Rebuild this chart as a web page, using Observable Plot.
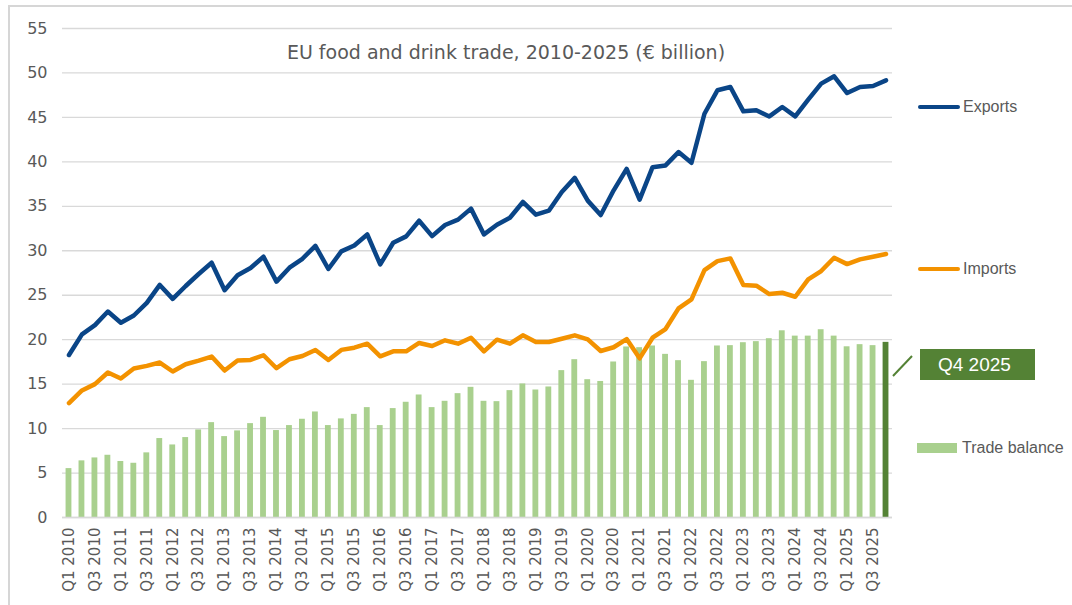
<!DOCTYPE html>
<html>
<head>
<meta charset="utf-8">
<script src="https://cdn.jsdelivr.net/npm/d3@7"></script>
<script src="https://cdn.jsdelivr.net/npm/@observablehq/plot@0.6"></script>
<style>
  html, body { margin: 0; padding: 0; background: #fff; overflow: hidden; }
  #wrap { position: relative; width: 1072px; height: 605px; overflow: hidden; }
  #chart { position: absolute; left: 0; top: 0; }
  .abs { position: absolute; }
  .frame { left: 8px; top: 5px; width: 1200px; height: 800px; border: 2px solid #d6d6d6; pointer-events: none; }
  .title { left: 506px; top: 42px; transform: translateX(-50%); white-space: nowrap;
           font-family: "DejaVu Sans", sans-serif; font-size: 19px; line-height: 20px; color: #595959; }
  .legtxt { font-family: "Liberation Sans", Arial, sans-serif; font-size: 16px; line-height: 16px; color: #595959; white-space: nowrap; }
  .callout { left: 920px; top: 349px; width: 115px; height: 31px; background: #548235; color: #fff;
             font-family: "Liberation Sans", Arial, sans-serif; font-size: 19px; line-height: 31px;
             box-sizing: border-box; padding-left: 18px; white-space: nowrap; }
</style>
</head>
<body>
<div id="wrap">
  <div id="chart"></div>
  <div class="abs frame"></div>
  <div class="abs title">EU food and drink trade, 2010-2025 (€ billion)</div>
  <div class="abs" style="left:918px;top:105px;width:42px;height:4px;background:#0a4587;border-radius:2px"></div>
  <div class="abs legtxt" style="left:963px;top:99px">Exports</div>
  <div class="abs" style="left:918px;top:267px;width:42px;height:4px;background:#f39200;border-radius:2px"></div>
  <div class="abs legtxt" style="left:963px;top:261px">Imports</div>
  <div class="abs" style="left:917px;top:443px;width:40px;height:10px;background:#a9d08e"></div>
  <div class="abs legtxt" style="left:962px;top:440px">Trade balance</div>
  <svg class="abs" style="left:0;top:0" width="1072" height="605"><line x1="893" y1="376" x2="912" y2="356" stroke="#548235" stroke-width="2"/></svg>
  <div class="abs callout">Q4 2025</div>
</div>
<script>
const years = d3.range(2010, 2026);
const quarters = ["Q1", "Q2", "Q3", "Q4"];
const labels = years.flatMap(y => quarters.map(q => `${q} ${y}`));

const exportsValues = [18.28,20.6,21.64,23.17,21.9,22.72,24.14,26.16,24.59,26.04,
  27.39,28.66,25.56,27.24,28.06,29.33,26.53,28.1,29.1,30.56,
  27.95,29.93,30.6,31.84,28.46,30.9,31.62,33.38,31.65,32.9,
  33.5,34.74,31.84,32.93,33.72,35.49,34.06,34.51,36.62,38.2,
  35.64,34.02,36.8,39.21,35.75,39.4,39.6,41.1,39.9,45.41,
  48.05,48.42,45.68,45.8,45.11,46.17,45.11,47.0,48.8,49.62,
  47.74,48.42,48.53,49.17];

const importsValues = [12.87,14.29,15.0,16.31,15.63,16.75,17.05,17.43,16.42,17.24,
  17.65,18.1,16.53,17.65,17.72,18.25,16.79,17.8,18.17,18.84,
  17.72,18.85,19.1,19.55,18.13,18.69,18.69,19.63,19.29,19.93,
  19.55,20.22,18.69,20.0,19.55,20.49,19.74,19.74,20.11,20.49,
  20.04,18.73,19.15,20.07,17.9,20.22,21.2,23.52,24.53,27.83,
  28.84,29.14,26.14,26.07,25.13,25.28,24.83,26.78,27.72,29.21,
  28.5,29.03,29.33,29.63];

const balanceValues = [5.5,6.37,6.7,7.0,6.3,6.1,7.27,8.88,8.16,8.99,
  9.85,10.67,9.1,9.74,10.56,11.27,9.78,10.34,11.05,11.87,
  10.34,11.09,11.6,12.36,10.34,12.25,12.96,13.78,12.36,13.07,
  13.93,14.64,13.07,13.03,14.27,15.02,14.34,14.68,16.52,17.75,
  15.5,15.3,17.49,19.18,19.1,19.29,18.35,17.64,15.43,17.53,
  19.29,19.33,19.66,19.78,20.11,21.0,20.4,20.4,21.12,20.4,
  19.2,19.44,19.33,19.7];

const yTicks = [0,5,10,15,20,25,30,35,40,45,50,55];
const xTicks = labels.filter(l => l.startsWith("Q1") || l.startsWith("Q3"));
const highlighted = "Q4 2025";

const rows = labels.map((q, i) => ({q, exports: exportsValues[i], imports: importsValues[i], balance: balanceValues[i]}));

const chart = Plot.plot({
  width: 1072,
  height: 605,
  marginLeft: 62,
  marginRight: 180,
  marginTop: 28,
  marginBottom: 88,
  style: {fontFamily: "DejaVu Sans, sans-serif", fontSize: "15px", color: "#595959", background: "transparent"},
  x: {type: "band", domain: labels, paddingInner: 0.55, paddingOuter: 0.275, label: null},
  y: {domain: [0, 55], label: null},
  color: {type: "identity"},
  marks: [
    Plot.gridY(yTicks, {stroke: "#d9d9d9", strokeOpacity: 1, strokeWidth: 1.3}),
    Plot.barY(rows, {x: "q", y: "balance", fill: d => d.q === highlighted ? "#548235" : "#a9d08e"}),
    Plot.ruleY([0], {stroke: "#d9d9d9", strokeWidth: 1.5}),
    Plot.lineY(rows, {x: "q", y: "imports", stroke: "#f39200", strokeWidth: 4.5}),
    Plot.lineY(rows, {x: "q", y: "exports", stroke: "#0a4587", strokeWidth: 4.5}),
    Plot.axisY(yTicks, {tickSize: 0, tickPadding: 15, fontSize: 16, fill: "#595959"}),
    Plot.axisX(xTicks, {tickSize: 0, tickPadding: 10, tickRotate: -90, fontSize: 15, fill: "#595959"})
  ]
});
document.getElementById("chart").appendChild(chart);
</script>
</body>
</html>
